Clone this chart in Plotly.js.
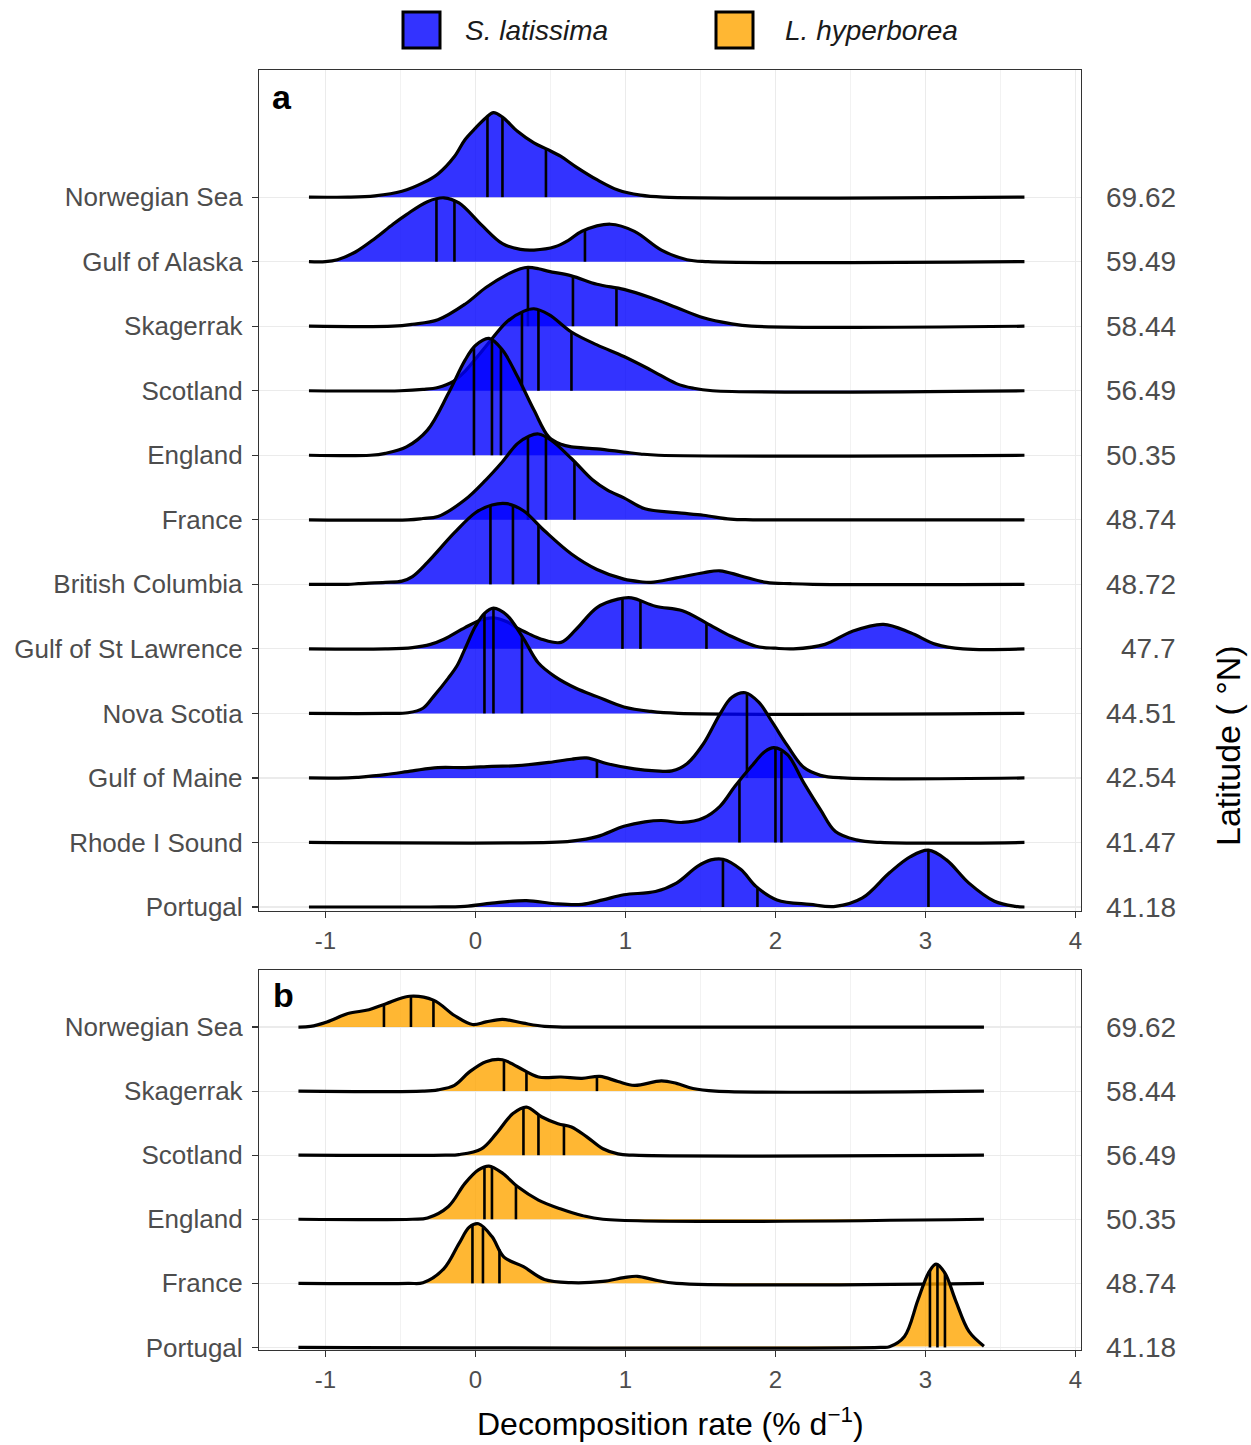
<!DOCTYPE html>
<html><head><meta charset="utf-8">
<script src="https://cdn.plot.ly/plotly-3.0.1.min.js"></script>
<style>html,body{margin:0;padding:0;background:#fff}</style>
</head><body>
<div id="chart" style="width:1251px;height:1445px"></div>
<script>
// ---------- data: panel a (S. latissima), top to bottom ----------
const sitesA = ["Norwegian Sea","Gulf of Alaska","Skagerrak","Scotland","England","France","British Columbia","Gulf of St Lawrence","Nova Scotia","Gulf of Maine","Rhode I Sound","Portugal"];
const latA = ["69.62","59.49","58.44","56.49","50.35","48.74","48.72","47.7","44.51","42.54","41.47","41.18"];

const xNorwegianSeaA = [-1.11,-0.85,-0.67,-0.49,-0.35,-0.25,-0.14,-0.07,0,0.07,0.12,0.18,0.28,0.39,0.48,0.57,0.67,0.81,0.95,1.1,1.25,3.66];
const hNorwegianSeaA = [0,0,0.02,0.09,0.22,0.36,0.63,0.89,1.07,1.23,1.31,1.24,1.02,0.84,0.74,0.63,0.47,0.27,0.11,0.03,0,0];
const qNorwegianSeaA = [0.08,0.18,0.47];

const xGulfAlaskaA = [-1.11,-1.0,-0.92,-0.8,-0.67,-0.55,-0.46,-0.32,-0.21,-0.11,0.04,0.18,0.3,0.39,0.53,0.62,0.71,0.9,1.06,1.24,1.41,1.55,3.66];
const hGulfAlaskaA = [0,0,0.03,0.15,0.36,0.58,0.73,0.93,0.99,0.91,0.57,0.28,0.19,0.18,0.23,0.33,0.47,0.58,0.47,0.18,0.03,0,0];
const qGulfAlaskaA = [-0.26,-0.14,0.73];

const xSkagerrakA = [-1.11,-0.55,-0.42,-0.25,-0.07,0.07,0.21,0.3,0.35,0.42,0.49,0.64,0.81,0.99,1.17,1.34,1.52,1.7,1.84,3.66];
const hSkagerrakA = [0,0,0.03,0.10,0.34,0.60,0.80,0.89,0.91,0.89,0.85,0.78,0.65,0.57,0.44,0.29,0.13,0.04,0,0];
const qSkagerrakA = [0.35,0.65,0.94];

const xScotlandA = [-1.11,-0.5,-0.35,-0.25,-0.15,-0.07,0.07,0.21,0.32,0.39,0.49,0.64,0.81,0.99,1.17,1.34,1.45,1.58,3.66];
const hScotlandA = [0,0,0.02,0.05,0.14,0.30,0.69,1.07,1.23,1.27,1.18,0.91,0.71,0.53,0.32,0.11,0.04,0,0];
const qScotlandA = [0.31,0.42,0.64];

const xEnglandA = [-1.11,-0.7,-0.6,-0.46,-0.32,-0.18,-0.07,0,0.09,0.18,0.28,0.39,0.49,0.57,0.64,0.81,0.99,1.1,1.22,3.66];
const hEnglandA = [0,0,0.03,0.13,0.39,0.96,1.47,1.70,1.81,1.63,1.22,0.70,0.28,0.17,0.13,0.10,0.05,0.02,0,0];
const qEnglandA = [-0.01,0.11,0.17];

const xFranceA = [-1.11,-0.45,-0.35,-0.25,-0.07,0.07,0.18,0.28,0.36,0.42,0.5,0.64,0.78,0.88,0.99,1.13,1.34,1.52,1.7,1.85,3.66];
const hFranceA = [0,0,0.02,0.05,0.31,0.62,0.90,1.18,1.30,1.33,1.24,0.95,0.62,0.46,0.34,0.17,0.11,0.07,0.01,0,0];
const qFranceA = [0.35,0.47,0.66];

const xBritishColumbiaA = [-1.11,-0.85,-0.78,-0.6,-0.49,-0.42,-0.32,-0.14,0,0.11,0.21,0.32,0.46,0.64,0.81,0.99,1.1,1.17,1.34,1.52,1.63,1.77,1.94,2.1,2.25,3.66];
const hBritishColumbiaA = [0,0,0.01,0.03,0.05,0.12,0.34,0.80,1.11,1.23,1.25,1.14,0.83,0.47,0.23,0.08,0.04,0.03,0.10,0.18,0.21,0.13,0.03,0.01,0,0];
const qBritishColumbiaA = [0.10,0.25,0.42];

const xStLawrenceA = [-1.11,-0.6,-0.42,-0.3,-0.21,-0.07,0.04,0.12,0.21,0.28,0.35,0.44,0.57,0.67,0.81,0.95,1.04,1.2,1.38,1.54,1.7,1.87,2.0,2.12,2.33,2.51,2.72,2.9,3.07,3.25,3.66];
const hStLawrenceA = [0,0,0.02,0.07,0.15,0.33,0.45,0.48,0.42,0.32,0.24,0.15,0.10,0.30,0.64,0.77,0.79,0.66,0.59,0.40,0.20,0.04,0.01,0,0.07,0.27,0.38,0.25,0.07,0,0];
const qStLawrenceA = [0.98,1.10,1.54];

const xNovaScotiaA = [-1.11,-0.6,-0.45,-0.35,-0.28,-0.18,-0.12,-0.07,0,0.06,0.12,0.21,0.32,0.42,0.53,0.67,0.81,0.99,1.17,1.35,3.66];
const hNovaScotiaA = [0,0,0.01,0.08,0.26,0.55,0.75,1.0,1.35,1.55,1.63,1.52,1.16,0.78,0.57,0.39,0.26,0.10,0.03,0,0];
const qNovaScotiaA = [0.06,0.12,0.31];

const xGulfMaineA = [-1.11,-0.85,-0.78,-0.6,-0.42,-0.25,-0.07,0.11,0.28,0.49,0.64,0.74,0.88,1.06,1.2,1.31,1.41,1.52,1.63,1.71,1.8,1.89,1.98,2.08,2.19,2.3,2.45,3.66];
const hGulfMaineA = [0,0,0.01,0.05,0.11,0.16,0.16,0.18,0.19,0.24,0.29,0.31,0.22,0.14,0.11,0.11,0.22,0.53,0.99,1.25,1.32,1.17,0.86,0.50,0.16,0.04,0,0];
const qGulfMaineA = [0.81,1.81];

const xRhodeIslandA = [-1.11,0.5,0.64,0.81,0.99,1.13,1.24,1.38,1.52,1.63,1.73,1.84,1.93,1.99,2.08,2.19,2.3,2.4,2.54,2.7,3.66];
const hRhodeIslandA = [0,0,0.02,0.09,0.25,0.32,0.34,0.31,0.38,0.56,0.87,1.18,1.41,1.47,1.36,0.92,0.51,0.17,0.04,0,0];
const qRhodeIslandA = [1.76,2.00,2.04];

const xPortugalA = [-1.11,-0.3,-0.07,0.11,0.34,0.53,0.71,0.85,0.99,1.2,1.34,1.48,1.57,1.65,1.77,1.87,2.01,2.23,2.4,2.58,2.76,2.9,3.02,3.14,3.29,3.46,3.6,3.66];
const hPortugalA = [0,0,0.01,0.06,0.10,0.05,0.04,0.11,0.19,0.24,0.37,0.63,0.73,0.74,0.58,0.32,0.11,0.04,0.01,0.14,0.53,0.78,0.88,0.73,0.37,0.09,0.01,0];
const qPortugalA = [1.65,1.88,3.02];

// ---------- data: panel b (L. hyperborea), top to bottom ----------
const sitesB = ["Norwegian Sea","Skagerrak","Scotland","England","France","Portugal"];
const latB = ["69.62","58.44","56.49","50.35","48.74","41.18"];

const xNorwegianSeaB = [-1.18,-1.1,-0.99,-0.85,-0.71,-0.6,-0.44,-0.28,-0.14,-0.02,0.07,0.18,0.32,0.46,0.58,3.39];
const hNorwegianSeaB = [0,0.01,0.08,0.21,0.27,0.36,0.48,0.42,0.18,0.04,0.08,0.12,0.06,0.01,0,0];
const qNorwegianSeaB = [-0.61,-0.43,-0.28];

const xSkagerrakB = [-1.18,-0.35,-0.25,-0.14,-0.04,0.07,0.18,0.28,0.42,0.57,0.71,0.83,0.95,1.06,1.24,1.34,1.45,1.6,3.39];
const hSkagerrakB = [0,0,0.02,0.09,0.30,0.46,0.49,0.38,0.22,0.22,0.20,0.23,0.15,0.09,0.16,0.12,0.04,0,0];
const qSkagerrakB = [0.19,0.34,0.81];

const xScotlandB = [-1.18,-0.2,-0.11,0.04,0.14,0.25,0.34,0.44,0.55,0.64,0.74,0.85,0.95,1.05,3.39];
const hScotlandB = [0,0,0.01,0.10,0.34,0.65,0.75,0.60,0.49,0.44,0.29,0.10,0.02,0,0];
const qScotlandB = [0.32,0.42,0.59];

const xEnglandB = [-1.18,-0.42,-0.32,-0.18,-0.07,0.02,0.09,0.18,0.28,0.42,0.57,0.71,0.85,3.39];
const hEnglandB = [0,0,0.02,0.20,0.56,0.77,0.83,0.72,0.51,0.30,0.16,0.06,0,0];
const qEnglandB = [0.06,0.11,0.27];

const xFranceB = [-1.18,-0.45,-0.35,-0.21,-0.11,-0.04,0.02,0.11,0.19,0.32,0.46,0.64,0.85,0.99,1.08,1.2,1.34,3.39];
const hFranceB = [0,0,0.01,0.23,0.62,0.88,0.93,0.73,0.41,0.26,0.06,0.01,0.03,0.09,0.11,0.05,0,0];
const qFranceB = [-0.02,0.05,0.16];

const xPortugalB = [-1.18,2.7,2.76,2.86,2.95,3.02,3.07,3.13,3.2,3.29,3.39];
const hPortugalB = [0,0,0.01,0.17,0.74,1.16,1.30,1.16,0.74,0.25,0.02];
const qPortugalB = [3.03,3.08,3.13];

const xTicks = [-1,0,1,2,3,4];
const xTickText = ["-1","0","1","2","3","4"];
const species = ["S. latissima","L. hyperborea"];
const panelTags = ["a","b"];
const xTitle = "Decomposition rate (% d<sup>−1</sup>)";
const yTitleRight = "Latitude ( °N)";

// ---------- build ----------
const curvesA = [
  [xNorwegianSeaA,hNorwegianSeaA,qNorwegianSeaA],[xGulfAlaskaA,hGulfAlaskaA,qGulfAlaskaA],
  [xSkagerrakA,hSkagerrakA,qSkagerrakA],[xScotlandA,hScotlandA,qScotlandA],
  [xEnglandA,hEnglandA,qEnglandA],[xFranceA,hFranceA,qFranceA],
  [xBritishColumbiaA,hBritishColumbiaA,qBritishColumbiaA],[xStLawrenceA,hStLawrenceA,qStLawrenceA],
  [xNovaScotiaA,hNovaScotiaA,qNovaScotiaA],[xGulfMaineA,hGulfMaineA,qGulfMaineA],
  [xRhodeIslandA,hRhodeIslandA,qRhodeIslandA],[xPortugalA,hPortugalA,qPortugalA]];
const curvesB = [
  [xNorwegianSeaB,hNorwegianSeaB,qNorwegianSeaB],[xSkagerrakB,hSkagerrakB,qSkagerrakB],
  [xScotlandB,hScotlandB,qScotlandB],[xEnglandB,hEnglandB,qEnglandB],
  [xFranceB,hFranceB,qFranceB],[xPortugalB,hPortugalB,qPortugalB]];

const FILL_A = 'rgba(0,0,255,0.8)';
const FILL_B = 'rgba(255,165,0,0.8)';
const SMOOTH = 1.0;

function interp(xs, hs, q){
  for (let i=0;i<xs.length-1;i++){
    if (q>=xs[i] && q<=xs[i+1]){
      const t=(q-xs[i])/(xs[i+1]-xs[i]); return hs[i]+t*(hs[i+1]-hs[i]);
    }
  }
  return 0;
}

const traces = [];
function addPanel(curves, fill, xa, ya){
  const n = curves.length;
  curves.forEach((c,i)=>{
    const base = n-1-i;
    const [xs,hs,qs] = c;
    const ys = hs.map(h=>base+h);
    traces.push({type:'scatter',mode:'lines',x:xs,y:ys,fill:'toself',fillcolor:fill,
      line:{width:0,shape:'spline',smoothing:SMOOTH},xaxis:xa,yaxis:ya,hoverinfo:'skip',showlegend:false});
    const qx=[],qy=[];
    qs.forEach(q=>{ qx.push(q,q,null); qy.push(base, base+interp(xs,hs,q), null); });
    traces.push({type:'scatter',mode:'lines',x:qx,y:qy,line:{color:'#000',width:2.6},
      xaxis:xa,yaxis:ya,hoverinfo:'skip',showlegend:false});
    traces.push({type:'scatter',mode:'lines',x:xs,y:ys,
      line:{color:'#000',width:3.2,shape:'spline',smoothing:SMOOTH},xaxis:xa,yaxis:ya,hoverinfo:'skip',showlegend:false});
  });
}
addPanel(curvesA, FILL_A, 'x', 'y');
addPanel(curvesB, FILL_B, 'x2', 'y2');

const FONT = 'Liberation Sans, Arial, sans-serif';
const L = 259, R = 170, T = 70, B = 95, W = 1251, H = 1445;
const pw = W-L-R, ph = H-T-B;
const px = v => (v-L)/pw;
const py = v => (H-B-v)/ph;

const xaxisBase = {
  range:[-1.443,4.037], tickmode:'array', tickvals:xTicks, ticktext:xTickText,
  ticks:'outside', ticklen:6, tickwidth:1.2, tickcolor:'#333',
  tickfont:{family:FONT,size:24,color:'#4d4d4d'}, ticklabelstandoff:2,
  showgrid:true, gridcolor:'#ebebeb', gridwidth:1.2, zeroline:false,
  minor:{dtick:0.5, tick0:-1.5, showgrid:true, gridcolor:'#ededed', gridwidth:0.7},
  showline:true, linecolor:'#333', linewidth:1.2, mirror:true, fixedrange:true
};
const yaxisBase = {
  tickmode:'array', ticks:'outside', ticklen:6, tickwidth:1.2, tickcolor:'#333',
  tickfont:{family:FONT,size:26,color:'#4d4d4d'}, ticklabelstandoff:4,
  showgrid:true, gridcolor:'#ebebeb', gridwidth:1.2, zeroline:false,
  showline:true, linecolor:'#333', linewidth:1.2, mirror:true, fixedrange:true
};

const nA = sitesA.length, nB = sitesB.length;
const layout = {
  width:W, height:H, margin:{l:L,r:R,t:T,b:B}, paper_bgcolor:'#fff', plot_bgcolor:'#fff',
  showlegend:false,
  xaxis:Object.assign({}, xaxisBase, {anchor:'y', domain:[0,1]}),
  yaxis:Object.assign({}, yaxisBase, {anchor:'x', domain:[py(911),1], range:[-0.062,12.97],
    tickvals:sitesA.map((s,i)=>nA-1-i), ticktext:sitesA}),
  xaxis2:Object.assign({}, xaxisBase, {anchor:'y2', domain:[0,1]}),
  yaxis2:Object.assign({}, yaxisBase, {anchor:'x2', domain:[0,py(970)], range:[-0.04,5.89],
    tickvals:sitesB.map((s,i)=>nB-1-i), ticktext:sitesB}),
  shapes:[
    {type:'rect',xref:'paper',yref:'paper',x0:px(403),x1:px(440),y0:py(48),y1:py(12),fillcolor:FILL_A,line:{color:'#000',width:3}},
    {type:'rect',xref:'paper',yref:'paper',x0:px(716),x1:px(753),y0:py(48),y1:py(12),fillcolor:FILL_B,line:{color:'#000',width:3}}
  ],
  annotations:[]
};
const ann = layout.annotations;
sitesA.forEach((s,i)=>ann.push({xref:'paper',yref:'y',x:px(1178),y:nA-1-i,text:latA[i],showarrow:false,
  xanchor:'right',yanchor:'middle',font:{family:FONT,size:28,color:'#4d4d4d'}}));
sitesB.forEach((s,i)=>ann.push({xref:'paper',yref:'y2',x:px(1178),y:nB-1-i,text:latB[i],showarrow:false,
  xanchor:'right',yanchor:'middle',font:{family:FONT,size:28,color:'#4d4d4d'}}));
ann.push({xref:'paper',yref:'paper',x:px(463),y:py(30),text:'<i>'+species[0]+'</i>',showarrow:false,xanchor:'left',yanchor:'middle',font:{family:FONT,size:28,color:'#1a1a1a'}});
ann.push({xref:'paper',yref:'paper',x:px(783),y:py(30),text:'<i>'+species[1]+'</i>',showarrow:false,xanchor:'left',yanchor:'middle',font:{family:FONT,size:28,color:'#1a1a1a'}});
ann.push({xref:'paper',yref:'paper',x:px(270),y:py(97),text:'<b>'+panelTags[0]+'</b>',showarrow:false,xanchor:'left',yanchor:'middle',font:{family:FONT,size:34,color:'#000'}});
ann.push({xref:'paper',yref:'paper',x:px(271),y:py(995),text:'<b>'+panelTags[1]+'</b>',showarrow:false,xanchor:'left',yanchor:'middle',font:{family:FONT,size:34,color:'#000'}});
ann.push({xref:'paper',yref:'paper',x:0.5,y:py(1422),text:xTitle,showarrow:false,xanchor:'center',yanchor:'middle',font:{family:FONT,size:32,color:'#000'}});
ann.push({xref:'paper',yref:'paper',x:px(1228),y:py(746),text:yTitleRight,showarrow:false,textangle:-90,xanchor:'center',yanchor:'middle',font:{family:FONT,size:34,color:'#000'}});

Plotly.newPlot('chart', traces, layout, {staticPlot:true, displayModeBar:false});
</script>
</body></html>
